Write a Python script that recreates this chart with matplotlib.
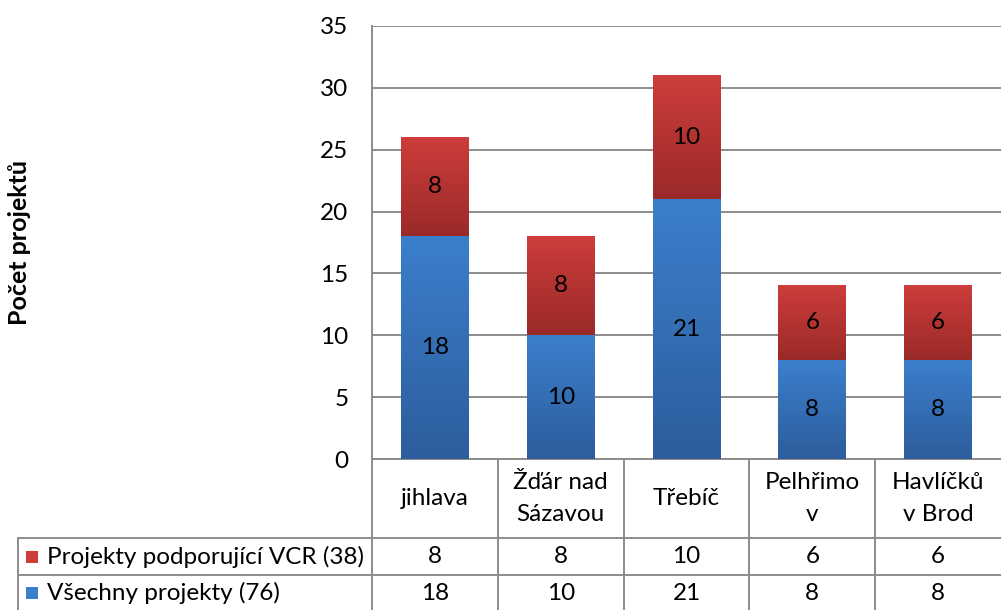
import matplotlib
matplotlib.use("Agg")

import numpy as np
import matplotlib.pyplot as plt
from matplotlib.colors import LinearSegmentedColormap
from matplotlib.transforms import blended_transform_factory
from matplotlib.patches import Rectangle

# data
okresy = ["jihlava", "Žďár nad\nSázavou", "Třebíč", "Pelhřimo\nv", "Havlíčků\nv Brod"]
vsechny = [18, 10, 21, 8, 8]
vcr = [8, 8, 10, 6, 6]
nazev_vsechny = "Všechny projekty (76)"
nazev_vcr = "Projekty podporující VCR (38)"
y_ticks = [0, 5, 10, 15, 20, 25, 30, 35]

plt.rcParams["font.family"] = ["Lato", "DejaVu Sans"]

BLUE = ("#3B7FCC", "#2D5D9C")
RED = ("#CD3D3B", "#9A2A28")
GRID = "#8C8C8C"
FS = 17.5

W, H = 1001, 610
fig = plt.figure(figsize=(W / 100, H / 100), dpi=100)
x0, x1 = 372, 1001
y0, y1 = 459, 26
ax = fig.add_axes([x0 / W, 1 - y0 / H, (x1 - x0) / W, (y0 - y1) / H])

x = np.arange(len(okresy))
bw = 0.54


def gradient_fill(bars, colors):
    cmap = LinearSegmentedColormap.from_list("g", [colors[1], colors[0]])
    grad = np.linspace(0, 1, 256).reshape(-1, 1)
    for b in bars:
        bx, by = b.get_x(), b.get_y()
        w, h = b.get_width(), b.get_height()
        ax.imshow(grad, cmap=cmap, origin="lower", aspect="auto",
                  extent=(bx, bx + w, by, by + h), zorder=3)


b1 = ax.bar(x, vsechny, bw, color=BLUE[0], zorder=2)
b2 = ax.bar(x, vcr, bw, bottom=vsechny, color=RED[0], zorder=2)
gradient_fill(b1, BLUE)
gradient_fill(b2, RED)

# popisky hodnot
for i in range(len(x)):
    ax.text(x[i], vsechny[i] / 2, str(vsechny[i]), ha="center", va="center",
            fontsize=FS, zorder=5)
    ax.text(x[i], vsechny[i] + vcr[i] / 2, str(vcr[i]), ha="center", va="center",
            fontsize=FS, zorder=5)

ax.set_xlim(-0.5, len(x) - 0.5)
ax.set_ylim(0, 35)
ax.set_yticks(y_ticks)
ax.set_yticklabels([str(t) for t in y_ticks], fontsize=FS)
ax.tick_params(axis="y", length=0, pad=17)
ax.set_xticks([])
ax.yaxis.grid(True, color=GRID, lw=1.4)
ax.set_axisbelow(True)
for s in ["top", "right", "bottom"]:
    ax.spines[s].set_visible(False)
ax.spines["left"].set_color(GRID)
ax.spines["left"].set_linewidth(1.4)

fig.text(20 / W, 1 - 243 / H, "Počet projektů", rotation=90, ha="center",
         va="center", fontsize=18, fontweight="bold")

# ==============================
# TABULKA DAT
# ==============================
ph = y0 - y1  # vyska osy v px


def ay(py):
    return (y0 - py) / ph


tr = blended_transform_factory(ax.transData, ax.transAxes)
lkw = dict(color=GRID, lw=1.4, clip_on=False, transform=ax.transAxes)

r0, r1, r2, r3 = ay(459), ay(538), ay(575), ay(611)
left = (18 - x0) / (x1 - x0)

ax.plot([0, 1], [r0, r0], **lkw)
ax.plot([left, 1], [r1, r1], **lkw)
ax.plot([left, 1], [r2, r2], **lkw)
ax.plot([left, left], [r1, r3], **lkw)
for k in range(len(x)):
    xf = k / len(x)
    ax.plot([xf, xf], [r0, r3], **lkw)

for i, name in enumerate(okresy):
    ax.text(x[i], (r0 + r1) / 2, name, transform=tr, ha="center", va="center",
            fontsize=FS, linespacing=1.6)
    ax.text(x[i], (r1 + r2) / 2, str(vcr[i]), transform=tr, ha="center",
            va="center", fontsize=FS)
    ax.text(x[i], (r2 + r3) / 2, str(vsechny[i]), transform=tr, ha="center",
            va="center", fontsize=FS)

# legenda v radcich
for (row_lo, row_hi), label, cols in [((r2, r1), nazev_vcr, RED),
                                       ((r3, r2), nazev_vsechny, BLUE)]:
    yc = (row_lo + row_hi) / 2
    sq = 12 / (x1 - x0)
    sqh = 12 / ph
    lx = (26 - x0) / (x1 - x0)
    ax.add_patch(Rectangle((lx, yc - sqh / 2), sq, sqh, transform=ax.transAxes,
                           facecolor=cols[0], edgecolor="none", clip_on=False))
    ax.text((47 - x0) / (x1 - x0), yc, label, transform=ax.transAxes,
            ha="left", va="center", fontsize=FS)

fig.savefig("out.png", dpi=100)
